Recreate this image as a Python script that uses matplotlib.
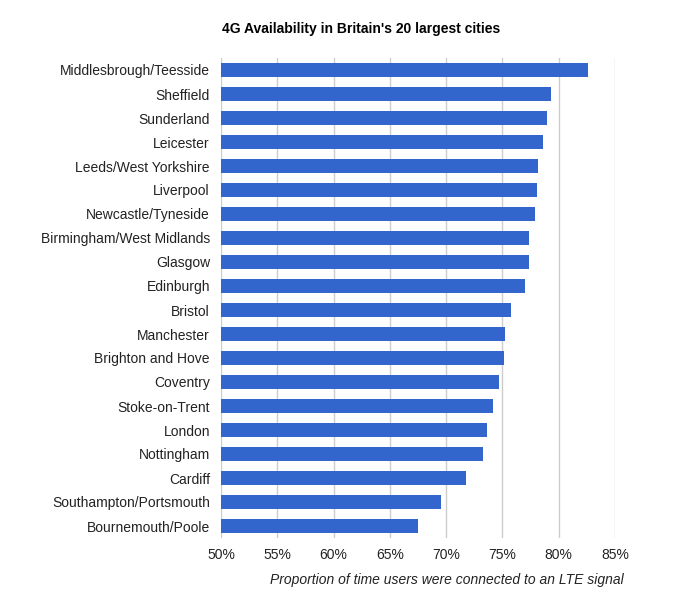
import matplotlib
matplotlib.use("Agg")
import matplotlib.pyplot as plt
from matplotlib.ticker import FuncFormatter

plt.rcParams['font.family'] = ['Liberation Sans', 'DejaVu Sans']

cities = ["Middlesbrough/Teesside", "Sheffield", "Sunderland", "Leicester",
          "Leeds/West Yorkshire", "Liverpool", "Newcastle/Tyneside",
          "Birmingham/West Midlands", "Glasgow", "Edinburgh", "Bristol",
          "Manchester", "Brighton and Hove", "Coventry", "Stoke-on-Trent",
          "London", "Nottingham", "Cardiff", "Southampton/Portsmouth",
          "Bournemouth/Poole"]
availability = [82.6, 79.3, 79.0, 78.6, 78.2, 78.1, 77.9, 77.4, 77.4, 77.0,
                75.8, 75.2, 75.1, 74.7, 74.2, 73.6, 73.3, 71.8, 69.5, 67.5]
xticks = [50, 55, 60, 65, 70, 75, 80, 85]

fig = plt.figure(figsize=(7, 6.07), dpi=100)
ax = fig.add_axes([221/700, 1 - 538/607, 394/700, 480/607])

ypos = list(range(len(cities)))[::-1]
ax.barh(ypos, [v - 50 for v in availability], left=50, height=0.62,
        color="#3366cc", zorder=3)

ax.set_xlim(50, 85)
ax.set_ylim(-0.5, len(cities) - 0.5)
ax.set_xticks(xticks)
ax.xaxis.set_major_formatter(FuncFormatter(lambda v, p: "%d%%" % v))
ax.set_yticks(ypos)
ax.set_yticklabels(cities)
ax.grid(axis="x", color="#cccccc", linewidth=1, zorder=0)
ax.tick_params(length=0, labelsize=10, colors="#222222")
ax.tick_params(axis="x", pad=7)
ax.tick_params(axis="y", pad=8)
for s in ax.spines.values():
    s.set_visible(False)

fig.text(361/700, 1 - 29/607, "4G Availability in Britain's 20 largest cities",
         ha="center", va="center", fontsize=10, fontweight="bold", color="#000000")
fig.text(624/700, 1 - 580/607, "Proportion of time users were connected to an LTE signal",
         ha="right", va="center", fontsize=10, style="italic", color="#222222")

fig.savefig("out.png", dpi=100)
